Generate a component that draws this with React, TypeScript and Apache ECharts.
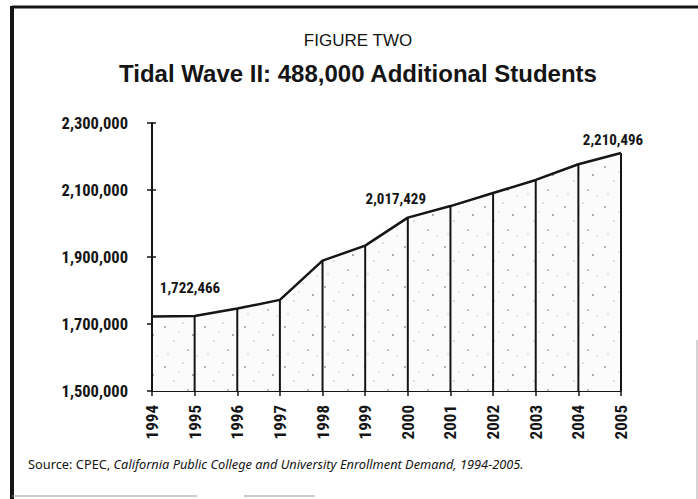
import React, { useEffect, useRef } from 'react';
import * as echarts from 'echarts';

const years = ['1994', '1995', '1996', '1997', '1998', '1999', '2000', '2001', '2002', '2003', '2004', '2005'];
const enrollment = [1722466, 1724000, 1746000, 1772000, 1889000, 1934000, 2017429, 2052000, 2091000, 2130000, 2177000, 2210496];
const yMin = 1500000;
const yMax = 2300000;
const yStep = 200000;
const labeledYears = ['1994', '2000', '2005'];
const labelOffsets: Record<string, number[]> = { '1994': [38, -16], '2000': [-12, -6], '2005': [-8, 0] };
const figureLabel = 'FIGURE TWO';
const titleText = 'Tidal Wave II: 488,000 Additional Students';
const sourcePlain = 'Source: CPEC, ';
const sourceItalic = 'California Public College and University Enrollment Demand, 1994-2005.';

const fmt = (v: number) => v.toLocaleString('en-US');
const NARROW = '"Roboto Condensed", "Liberation Sans Narrow", "Arial Narrow", Roboto, sans-serif';
const INK = '#151515';

const stipple =
  'data:image/svg+xml;utf8,' +
  encodeURIComponent(
    '<svg xmlns="http://www.w3.org/2000/svg" width="40" height="40">' +
      '<rect width="40" height="40" fill="#fbfbfb"/>' +
      '<circle cx="5" cy="7" r="0.8" fill="#555"/>' +
      '<circle cx="23" cy="3" r="0.6" fill="#888"/>' +
      '<circle cx="33" cy="15" r="0.8" fill="#444"/>' +
      '<circle cx="14" cy="21" r="0.6" fill="#777"/>' +
      '<circle cx="28" cy="30" r="0.7" fill="#555"/>' +
      '<circle cx="8" cy="34" r="0.6" fill="#999"/>' +
      '<circle cx="19" cy="12" r="0.5" fill="#aaa"/>' +
      '<circle cx="37" cy="36" r="0.5" fill="#999"/>' +
      '</svg>'
  );

export default function App() {
  const ref = useRef<HTMLDivElement>(null);
  useEffect(() => {
    if (!ref.current) return;
    const chart = echarts.init(ref.current, null, { renderer: 'svg' });
    const barData = enrollment.map((v, i) => {
      const y = years[i];
      if (labeledYears.includes(y)) {
        return {
          value: v,
          label: {
            show: true,
            position: 'top',
            offset: labelOffsets[y],
            formatter: () => fmt(v),
            fontFamily: NARROW,
            fontWeight: 'bold',
            fontSize: 15,
            color: INK,
          },
        };
      }
      return { value: v };
    });
    chart.setOption({
      animation: false,
      backgroundColor: '#ffffff',
      grid: { left: 152, right: 77, top: 123, bottom: 108, containLabel: false },
      xAxis: {
        type: 'category',
        data: years,
        boundaryGap: false,
        axisLine: { show: true, lineStyle: { color: INK, width: 2 } },
        axisTick: { show: true, length: 5, lineStyle: { color: INK, width: 1.5 } },
        axisLabel: {
          rotate: 90,
          margin: 14,
          fontFamily: NARROW,
          fontWeight: 'bold',
          fontSize: 17,
          color: INK,
        },
        splitLine: { show: false },
      },
      yAxis: [
        {
          type: 'value',
          min: yMin,
          max: yMax,
          interval: yStep,
          axisLine: { show: true, lineStyle: { color: INK, width: 2 } },
          axisTick: { show: true, length: 5, lineStyle: { color: INK, width: 1.5 } },
          axisLabel: {
            margin: 24,
            formatter: (v: number) => fmt(v),
            fontFamily: NARROW,
            fontWeight: 'bold',
            fontSize: 16.5,
            color: INK,
          },
          splitLine: { show: false },
        },
        {
          type: 'value',
          min: yMin,
          max: yMax,
          interval: yStep,
          position: 'left',
          axisLine: { show: false },
          axisTick: { show: true, inside: true, length: 4, lineStyle: { color: INK, width: 1.5 } },
          axisLabel: { show: false },
          splitLine: { show: false },
        },
      ],
      series: [
        {
          type: 'line',
          data: enrollment,
          yAxisIndex: 0,
          symbol: 'none',
          lineStyle: { color: INK, width: 2.5 },
          areaStyle: {
            color: { image: stipple, repeat: 'repeat', imageWidth: 40, imageHeight: 40 },
            opacity: 1,
            origin: 'start',
          },
          z: 2,
        },
        {
          type: 'bar',
          data: barData,
          yAxisIndex: 0,
          barWidth: 2,
          clip: true,
          itemStyle: { color: INK },
          z: 3,
        },
      ],
      graphic: [
        { type: 'line', shape: { x1: 12, y1: 7, x2: 698, y2: 7 }, style: { stroke: INK, lineWidth: 3 } },
        { type: 'line', shape: { x1: 12, y1: 6, x2: 12, y2: 499 }, style: { stroke: INK, lineWidth: 4 } },
        { type: 'line', shape: { x1: 12, y1: 496, x2: 197, y2: 496 }, style: { stroke: '#999', lineWidth: 1 } },
        { type: 'line', shape: { x1: 244, y1: 496, x2: 315, y2: 496 }, style: { stroke: '#999', lineWidth: 1 } },
        { type: 'line', shape: { x1: 697, y1: 340, x2: 697, y2: 499 }, style: { stroke: '#aaa', lineWidth: 1 } },
        {
          type: 'text',
          x: 358,
          y: 40,
          style: {
            text: figureLabel,
            align: 'center',
            verticalAlign: 'middle',
            fontFamily: '"Liberation Sans", sans-serif',
            fontSize: 17,
            fill: INK,
          },
        },
        {
          type: 'text',
          x: 358,
          y: 73,
          style: {
            text: titleText,
            align: 'center',
            verticalAlign: 'middle',
            fontFamily: '"Liberation Sans", sans-serif',
            fontWeight: 'bold',
            fontSize: 24,
            fill: INK,
          },
        },
        {
          type: 'text',
          x: 28,
          y: 464,
          style: {
            text: sourcePlain + '{i|' + sourceItalic + '}',
            verticalAlign: 'middle',
            fontFamily: '"Noto Sans", sans-serif',
            fontSize: 12.8,
            fill: INK,
            rich: {
              i: { fontStyle: 'italic', fontFamily: '"Noto Sans", sans-serif', fontSize: 12.8, fill: INK },
            },
          },
        },
      ],
    });
    return () => chart.dispose();
  }, []);
  return <div ref={ref} style={{ position: 'fixed', left: 0, top: 0, width: 698, height: 499 }} />;
}
